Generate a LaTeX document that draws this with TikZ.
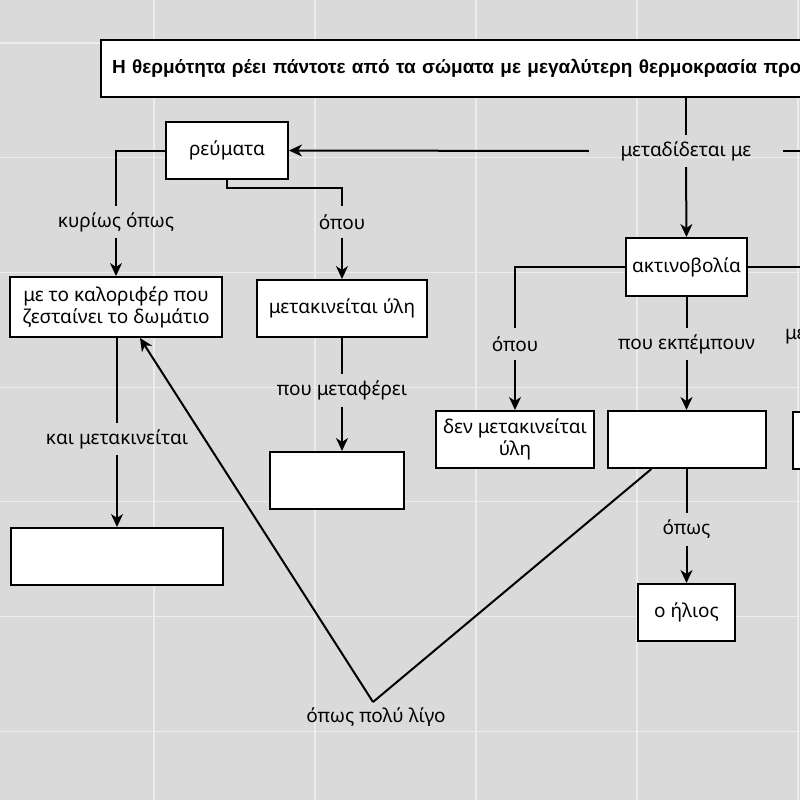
\documentclass[tikz,border=0pt]{standalone}
\usepackage{fontspec}
\setmainfont{Noto Sans}
\newfontfamily\titlefont{Liberation Sans}
\usetikzlibrary{arrows.meta,calc}
\definecolor{bgc}{RGB}{218,218,218}
\definecolor{gridc}{RGB}{236,236,236}
\begin{document}
\begin{tikzpicture}[x=1pt,y=-1pt,
  txt/.style={font=\fontsize{19}{22}\selectfont},
  box/.style={txt,draw=black,fill=white,line width=2pt,minimum height=57pt,inner sep=2pt,align=center},
  lbl/.style={txt,inner sep=0pt,minimum height=32pt},
  conn/.style={line width=2pt},
  arr/.style={conn,-{Stealth[length=13pt,width=12pt,inset=4pt]}},
  gridline/.style={draw=gridc,line width=1.2pt}
]
\useasboundingbox (0,0) rectangle (800,800);
\clip (0,0) rectangle (800,800);
\fill[bgc] (0,0) rectangle (800,800);
\foreach \x in {-7,154,315,476,637,798} \draw[gridline] (\x,0) -- (\x,800);
\foreach \y in {43,157.7,272.4,387.1,501.8,616.5,731.2} \draw[gridline] (0,\y) -- (800,\y);

% title
\node[box,anchor=west,text width=760pt,inner xsep=11pt,align=left,
      font=\titlefont\bfseries\fontsize{19}{22}\selectfont] (title) at (100,68.5)
  {Η θερμότητα ρέει πάντοτε από τα σώματα με μεγαλύτερη θερμοκρασία προς};

% boxes
\node[box,minimum width=122pt] (reu) at (227,150.5) {ρεύματα};
\node[box,minimum width=212pt,minimum height=60pt] (kal) at (116,307) {με το καλοριφέρ που\\ζεσταίνει το δωμάτιο};
\node[box,minimum width=170pt] (mu) at (342,308.5) {μετακινείται ύλη};
\node[box,minimum width=134pt] (e1) at (337,480.5) {};
\node[box,minimum width=212pt] (e2) at (117,556.5) {};
\node[box,minimum width=121pt,minimum height=58pt] (akt) at (686.5,267) {ακτινοβολία};
\node[box,minimum width=158pt] (den) at (515,439.5) {δεν μετακινείται\\ύλη};
\node[box,minimum width=158pt] (e3) at (686.5,439.5) {};
\node[box,minimum width=97pt] (ilios) at (686.5,612.5) {ο ήλιος};
\node[box,minimum width=60pt,anchor=north west] (rbox) at (792,411) {};

% labels
\node[lbl,minimum width=194pt] (med) at (686,151) {μεταδίδεται με};
\node[lbl] (kyr) at (116,222) {κυρίως όπως};
\node[lbl] (op1) at (342,222) {όπου};
\node[lbl] (pm) at (342,390.5) {που μεταφέρει};
\node[lbl] (km) at (117,439) {και μετακινείται};
\node[lbl] (op2) at (515,344) {όπου};
\node[lbl] (pe) at (686.5,344) {που εκπέμπουν};
\node[lbl] (hop) at (686.5,529.5) {όπως};
\node[lbl] (opl) at (376,717) {όπως πολύ λίγο};
\node[txt,inner sep=0pt,anchor=west] (mer) at (785,337) {με};
\coordinate (lp) at (373,702);
\coordinate (ra) at (830,151);
\coordinate (rb) at (830,267);

% connectors
\draw[conn] (med |- title.south) -- (med.north);
\draw[arr] (med.south) -- (akt.north);
\draw[arr] (med.west) -- (reu.east);
\draw[conn] (med.east) -- (ra);
\draw[conn] (reu.west) -| (kyr.north);
\draw[arr] (kyr.south) -- (kal.north);
\draw[conn] (reu.south) -- ++(0,8) -| (op1.north);
\draw[arr] (op1.south) -- (mu.north);
\draw[conn] (mu.south) -- (pm.north);
\draw[arr] (pm.south) -- (e1.north -| pm.south);
\draw[conn] (kal.south -| km.north) -- (km.north);
\draw[arr] (km.south) -- (e2.north -| km.south);
\draw[conn] (akt.west) -| (op2.north);
\draw[arr] (op2.south) -- (den.north);
\draw[conn] (akt.south) -- (pe.north);
\draw[arr] (pe.south) -- (e3.north);
\draw[conn] (e3.south) -- (hop.north);
\draw[arr] (hop.south) -- (ilios.north);
\draw[conn] (akt.east) -- (rb);
\draw[conn] (lp) -- (e3);
\draw[arr] (lp) -- ($(kal.south)+(24,0)$);
\end{tikzpicture}
\end{document}
